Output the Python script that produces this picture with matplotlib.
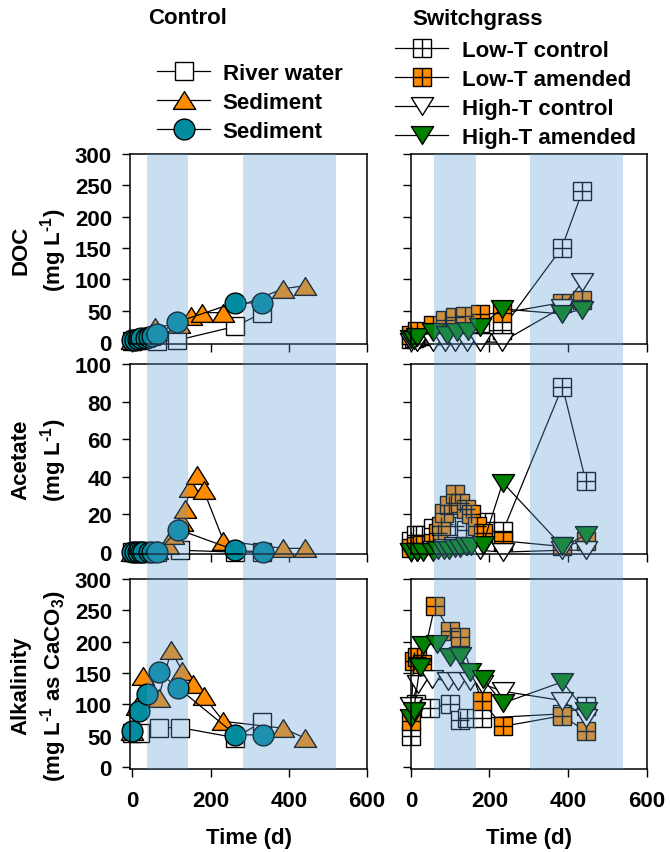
import matplotlib
matplotlib.use('Agg')
import matplotlib.pyplot as plt
import matplotlib.transforms as mtransforms
from matplotlib.patches import Rectangle
from matplotlib.lines import Line2D
from matplotlib.legend_handler import HandlerTuple
from matplotlib.path import Path

plt.rcParams['font.family'] = ['Liberation Sans', 'DejaVu Sans']
plt.rcParams['font.weight'] = 'bold'
plt.rcParams['mathtext.fontset'] = 'custom'
plt.rcParams['mathtext.rm'] = 'Liberation Sans:bold'
plt.rcParams['mathtext.bf'] = 'Liberation Sans:bold'
plt.rcParams['mathtext.it'] = 'Liberation Sans:bold'
plt.rcParams['mathtext.default'] = 'rm'
plt.rcParams['axes.unicode_minus'] = False

# ---------------- data ----------------
# Control column
ctl_doc_river_t = [0, 7, 14, 64, 115, 263, 331]
ctl_doc_river = [2, 3, 3, 2, 3, 25, 46]
ctl_doc_tri_t = [0, 14, 28, 42, 59, 120, 150, 179, 232, 385, 441]
ctl_doc_tri = [3, 5, 7, 10, 24, 29, 41, 47, 47, 85, 90]
ctl_doc_cir_t = [0, 7, 14, 21, 35, 42, 49, 64, 115, 263, 331]
ctl_doc_cir = [3, 4, 5, 6, 7, 8, 9, 13, 32, 63, 62]

ctl_ace_river_t = [0, 7, 14, 63, 122, 263, 331]
ctl_ace_river = [0, 0, 0, 0, 1, 0, 0]
ctl_ace_tri_t = [0, 7, 14, 21, 35, 49, 63, 92, 105, 127, 135, 148, 166, 182, 233, 386, 442]
ctl_ace_tri = [0, 0, 0, 0, 0, 0, 1, 4, 9, 16, 23, 34, 41, 33, 6, 2, 2]
ctl_ace_cir_t = [0, 7, 14, 21, 28, 42, 49, 63, 118, 263, 335]
ctl_ace_cir = [0, 0, 0, 0, 0, 0, 0, 0, 12, 1, 0]

ctl_alk_river_t = [0, 20, 67, 122, 263, 332]
ctl_alk_river = [55, 54, 63, 63, 47, 72]
ctl_alk_tri_t = [0, 12, 28, 67, 99, 127, 156, 182, 233, 386, 442]
ctl_alk_tri = [57, 98, 146, 110, 186, 154, 133, 113, 73, 62, 46]
ctl_alk_cir_t = [0, 18, 38, 67, 118, 263, 335]
ctl_alk_cir = [57, 89, 117, 151, 126, 52, 51]

# Switchgrass column
sw_doc_lc_t = [0, 7, 14, 28, 56, 91, 112, 140, 175, 231, 384, 437]
sw_doc_lc = [5, 7, 8, 10, 11, 12, 14, 15, 16, 20, 150, 241]
sw_doc_la_t = [0, 15, 56, 86, 112, 137, 175, 231, 384, 437]
sw_doc_la = [12, 18, 28, 36, 40, 42, 45, 46, 63, 67]
sw_doc_hc_t = [0, 15, 56, 86, 112, 142, 175, 231, 384, 437]
sw_doc_hc = [0, 0, 0, 0, 0, 0, 0, 0, 55, 96]
sw_doc_ha_t = [0, 7, 15, 56, 91, 117, 145, 175, 231, 384, 437]
sw_doc_ha = [5, 4, 8, 16, 12, 16, 18, 24, 53, 45, 52]

sw_ace_lc_t = [0, 14, 28, 56, 84, 112, 140, 188, 234, 386, 445]
sw_ace_lc = [6, 9, 9, 13, 15, 14, 12, 16, 11, 88, 38]
sw_ace_la_t = [0, 14, 28, 56, 70, 77, 84, 98, 112, 126, 140, 154, 168, 183, 234, 386, 445]
sw_ace_la = [2, 3, 4, 5, 10, 14, 21, 25, 31, 26, 23, 20, 14, 10, 6, 3, 6]
sw_ace_hc_t = [0, 15, 56, 86, 112, 142, 175, 234, 386, 445]
sw_ace_hc = [0, 0, 1, 2, 3, 3, 1, 0, 1, 1]
sw_ace_ha_t = [0, 15, 30, 56, 70, 84, 98, 112, 126, 140, 154, 183, 234, 386, 445]
sw_ace_ha = [0, 0, 0, 0, 1, 1, 1, 2, 2, 3, 3, 4, 37, 3, 9]

sw_alk_lc_t = [0, 14, 48, 99, 124, 142, 180, 386, 445]
sw_alk_lc = [49, 100, 94, 101, 75, 78, 78, 85, 97]
sw_alk_la_t = [0, 7, 15, 28, 61, 99, 124, 180, 234, 386, 445]
sw_alk_la = [73, 170, 176, 165, 257, 217, 207, 106, 65, 82, 57]
sw_alk_hc_t = [0, 18, 53, 94, 120, 150, 180, 234, 386, 445]
sw_alk_hc = [97, 133, 141, 138, 137, 138, 133, 121, 106, 78]
sw_alk_ha_t = [0, 7, 23, 30, 66, 99, 124, 150, 183, 234, 386, 445]
sw_alk_ha = [78, 90, 160, 194, 197, 176, 178, 152, 141, 102, 136, 89]

# shaded periods (d)
ctl_bands = [(38, 143), (284, 522)]
sw_bands = [(59, 166), (304, 540)]

ctl_labels = ['River water', 'Sediment', 'Sediment']
sw_labels = ['Low-T control', 'Low-T amended', 'High-T control', 'High-T amended']
ylabels = ['DOC\n(mg L$^{\\text{-}1}$)', 'Acetate\n(mg L$^{\\text{-}1}$)',
           'Alkalinity\n(mg L$^{\\text{-}1}$ as CaCO$_3$)']
yticks = [[0, 50, 100, 150, 200, 250, 300], [0, 20, 40, 60, 80, 100], [0, 50, 100, 150, 200, 250, 300]]
ylims = [(-3, 300), (-1, 100), (-3, 300)]
xticks = [0, 200, 400, 600]

# ---------------- style ----------------
ORANGE = '#FF8C00'
TEAL = '#008B9E'
GREEN = '#008000'
BAND = '#5B9BD5'
FS = 16

tri_up = Path([(-1, -0.8), (1, -0.8), (0, 0.8), (-1, -0.8)],
              [Path.MOVETO, Path.LINETO, Path.LINETO, Path.CLOSEPOLY])
tri_dn = Path([(-1, 0.8), (1, 0.8), (0, -0.8), (-1, 0.8)],
              [Path.MOVETO, Path.LINETO, Path.LINETO, Path.CLOSEPOLY])

MS_SQ, MS_TRI, MS_CIR = 13, 16, 15
LW, MEW = 0.9, 1.0

W, H = 670, 853
fig = plt.figure(figsize=(W / 100, H / 100), dpi=100)

rows = [(155, 345), (365, 555), (580, 770)]
cols = [(130, 367), (410.5, 646.5)]


def rect(c, r):
    x0, x1 = cols[c]
    yt, yb = rows[r]
    return [x0 / W, 1 - yb / H, (x1 - x0) / W, (yb - yt) / H]


axes = [[None, None] for _ in range(3)]
for r in range(3):
    for c in range(2):
        ax = fig.add_axes(rect(c, r))
        axes[r][c] = ax
        ax.set_xlim(-6 if c == 0 else -1, 600)
        ax.set_ylim(*ylims[r])
        ax.set_xticks(xticks)
        ax.set_yticks(yticks[r])
        ax.tick_params(direction='out', length=6, width=1.0, labelsize=FS)
        ax.tick_params(axis='x', pad=9)
        ax.tick_params(axis='y', pad=7)
        ax.tick_params(top=False, right=False)
        for s in ax.spines.values():
            s.set_linewidth(1.1)
            s.set_zorder(20)
        if r < 2:
            ax.tick_params(labelbottom=False)
        if c == 1:
            ax.tick_params(labelleft=False)
        if r == 2:
            ax.set_xlabel('Time (d)', fontsize=FS, fontweight='bold', labelpad=12)
        for lab in ax.get_xticklabels() + ax.get_yticklabels():
            lab.set_fontweight('bold')


def series(ax, t, y, marker, ms, fc, cross=False):
    ax.plot(t, y, color='black', lw=LW, marker=marker, ms=ms, mfc=fc,
            mec='black', mew=MEW, clip_on=False)
    if cross:
        ax.plot(t, y, ls='none', marker='+', ms=ms, mec='black', mew=MEW, clip_on=False)


ctl_data = [
    (ctl_doc_river_t, ctl_doc_river, ctl_doc_tri_t, ctl_doc_tri, ctl_doc_cir_t, ctl_doc_cir),
    (ctl_ace_river_t, ctl_ace_river, ctl_ace_tri_t, ctl_ace_tri, ctl_ace_cir_t, ctl_ace_cir),
    (ctl_alk_river_t, ctl_alk_river, ctl_alk_tri_t, ctl_alk_tri, ctl_alk_cir_t, ctl_alk_cir),
]
sw_data = [
    (sw_doc_lc_t, sw_doc_lc, sw_doc_la_t, sw_doc_la, sw_doc_hc_t, sw_doc_hc, sw_doc_ha_t, sw_doc_ha),
    (sw_ace_lc_t, sw_ace_lc, sw_ace_la_t, sw_ace_la, sw_ace_hc_t, sw_ace_hc, sw_ace_ha_t, sw_ace_ha),
    (sw_alk_lc_t, sw_alk_lc, sw_alk_la_t, sw_alk_la, sw_alk_hc_t, sw_alk_hc, sw_alk_ha_t, sw_alk_ha),
]

for r in range(3):
    a = axes[r][0]
    rt, rv, tt, tv, ct, cv = ctl_data[r]
    series(a, rt, rv, 's', MS_SQ, 'white')
    series(a, tt, tv, tri_up, MS_TRI, ORANGE)
    series(a, ct, cv, 'o', MS_CIR, TEAL)

    b = axes[r][1]
    lct, lcv, lat, lav, hct, hcv, hat, hav = sw_data[r]
    series(b, lct, lcv, 's', MS_SQ, 'white', cross=True)
    series(b, lat, lav, 's', MS_SQ, ORANGE, cross=True)
    series(b, hct, hcv, tri_dn, MS_TRI, 'white')
    series(b, hat, hav, tri_dn, MS_TRI, GREEN)

# translucent bands spanning the whole column (drawn over data)
y_bot = 1 - rows[2][1] / H
y_top = 1 - rows[0][0] / H
for c, bands in ((0, ctl_bands), (1, sw_bands)):
    trans = mtransforms.blended_transform_factory(axes[2][c].transData, fig.transFigure)
    for b0, b1 in bands:
        p = Rectangle((b0, y_bot), b1 - b0, y_top - y_bot, transform=trans,
                      facecolor=BAND, edgecolor='none', alpha=0.32, zorder=1)
        fig.add_artist(p)

# y labels
ycent = [250, 460, 686]
for r in range(3):
    fig.text(40 / W, 1 - ycent[r] / H, ylabels[r], rotation=90, ha='center', va='center',
             fontsize=FS, fontweight='bold', linespacing=1.3, multialignment='center')

# titles
fig.text(148 / W, 1 - 18 / H, 'Control', ha='left', va='center', fontsize=FS, fontweight='bold')
fig.text(412 / W, 1 - 20 / H, 'Switchgrass', ha='left', va='center', fontsize=FS, fontweight='bold')

# legends
prop = {'size': FS, 'weight': 'bold'}
h_ctl = [
    Line2D([], [], color='black', lw=LW, marker='s', ms=MS_SQ, mfc='white', mec='black', mew=MEW),
    Line2D([], [], color='black', lw=LW, marker=tri_up, ms=MS_TRI, mfc=ORANGE, mec='black', mew=MEW),
    Line2D([], [], color='black', lw=LW, marker='o', ms=MS_CIR, mfc=TEAL, mec='black', mew=MEW),
]
fig.legend(h_ctl, ctl_labels, loc='upper left', bbox_to_anchor=(157 / W, 1 - 64 / H),
           frameon=False, prop=prop, handlelength=2.4, handletextpad=0.55,
           labelspacing=0.36, borderpad=0, borderaxespad=0)


def sq_handle(fc):
    return (Line2D([], [], color='black', lw=LW, marker='s', ms=MS_SQ, mfc=fc, mec='black', mew=MEW),
            Line2D([], [], ls='none', marker='+', ms=MS_SQ, mec='black', mew=MEW))


h_sw = [
    sq_handle('white'),
    sq_handle(ORANGE),
    Line2D([], [], color='black', lw=LW, marker=tri_dn, ms=MS_TRI, mfc='white', mec='black', mew=MEW),
    Line2D([], [], color='black', lw=LW, marker=tri_dn, ms=MS_TRI, mfc=GREEN, mec='black', mew=MEW),
]
fig.legend(h_sw, sw_labels, loc='upper left', bbox_to_anchor=(395 / W, 1 - 41 / H),
           frameon=False, prop=prop, handlelength=2.4, handletextpad=0.62,
           labelspacing=0.36, borderpad=0, borderaxespad=0,
           handler_map={tuple: HandlerTuple(ndivide=1)})

fig.savefig('out.png', dpi=100)
